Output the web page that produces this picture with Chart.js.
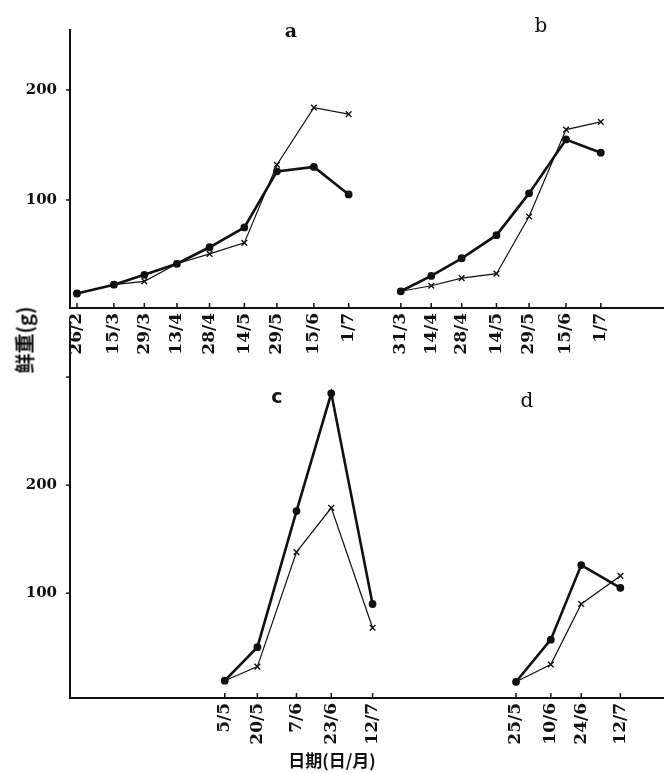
<!DOCTYPE html>
<html>
<head>
<meta charset="utf-8">
<script src="https://cdn.jsdelivr.net/npm/chart.js@4"></script>
<style>
html,body{margin:0;padding:0;background:#fff;}
#wrap{position:relative;width:670px;height:773px;overflow:hidden;background:#fff;}
canvas{position:absolute;left:0;}
#top{top:0;}
#bot{top:300px;}
.lab{position:absolute;color:#111;transform:translate(-50%,-50%);white-space:nowrap;line-height:1;}
</style>
</head>
<body>
<div id="wrap">
  <canvas id="top" width="670" height="380"></canvas>
  <canvas id="bot" width="670" height="473"></canvas>
  <div class="lab" style="left:291px;top:30px;font:bold 19px 'DejaVu Serif',serif;">a</div>
  <div class="lab" style="left:541px;top:25px;font:20px 'DejaVu Serif',serif;">b</div>
  <div class="lab" style="left:277px;top:396px;font:bold 19px 'DejaVu Sans',sans-serif;">c</div>
  <div class="lab" style="left:527px;top:400px;font:20px 'DejaVu Serif',serif;">d</div>
  <div class="lab" style="left:24px;top:340px;transform:translate(-50%,-50%) rotate(-90deg);font:bold 20px 'Noto Sans CJK SC',sans-serif;">鲜重(g)</div>
  <div class="lab" style="left:332px;top:759px;font:bold 17px 'Noto Sans CJK SC',sans-serif;">日期(日/月)</div>
</div>
<script>
// panel a (top left) - day of year, fresh weight (g)
const aDates = ['26/2','15/3','29/3','13/4','28/4','14/5','29/5','15/6','1/7'];
const aDays  = [57, 74, 88, 103, 118, 134, 149, 166, 182];
const aDot   = [15, 23, 32, 42, 57, 75, 126, 130, 105];
const aCross = [15, 23, 26, 42, 51, 61, 132, 184, 178];

// panel b (top right)
const bDates = ['31/3','14/4','28/4','14/5','29/5','15/6','1/7'];
const bDays  = [90, 104, 118, 134, 149, 166, 182];
const bDot   = [17, 31, 47, 68, 106, 155, 143];
const bCross = [17, 22, 29, 33, 85, 164, 171];

// panel c (bottom left)
const cDates = ['5/5','20/5','7/6','23/6','12/7'];
const cDays  = [125, 140, 158, 174, 193];
const cDot   = [19, 50, 176, 285, 90];
const cCross = [19, 32, 138, 179, 68];

// panel d (bottom right)
const dDates = ['25/5','10/6','24/6','12/7'];
const dDays  = [145, 161, 175, 193];
const dDot   = [18, 57, 126, 105];
const dCross = [18, 34, 90, 116];

// right-hand panels share the axis, shifted along it
const bShift = 116, dShift = 114;

const INK = '#111';

function pts(days, vals, shift){
  return days.map((d,i)=>({x:d+shift, y:vals[i]}));
}
function dotSet(data){
  return {data, borderColor:INK, borderWidth:2.6, pointStyle:'circle', pointRadius:2.6,
          pointBackgroundColor:INK, pointBorderColor:INK, tension:0};
}
function crossSet(data){
  return {data, borderColor:INK, borderWidth:1.2, pointStyle:'crossRot', pointRadius:4,
          pointBorderWidth:1.4, pointBorderColor:INK, tension:0};
}

// small tick marks: up from the x axis, left from the y axis
const tickMarks = {
  id:'tickMarks',
  afterDraw(chart){
    const {ctx, chartArea:ca, scales:{x,y}} = chart;
    ctx.save();
    ctx.strokeStyle = INK; ctx.lineWidth = 1.5;
    x.ticks.forEach(t=>{
      const px = x.getPixelForValue(t.value);
      ctx.beginPath(); ctx.moveTo(px, ca.bottom); ctx.lineTo(px, ca.bottom-5); ctx.stroke();
    });
    y.ticks.forEach(t=>{
      const py = y.getPixelForValue(t.value);
      ctx.beginPath(); ctx.moveTo(ca.left-4, py); ctx.lineTo(ca.left, py); ctx.stroke();
    });
    ctx.restore();
  }
};

function makeChart(id, sets, tickPos, tickLab, yMin, yMax, yTicks, pad, xH){
  const lab = {};
  tickPos.forEach((v,i)=>{ lab[v] = tickLab[i]; });
  return new Chart(document.getElementById(id), {
    type:'line',
    data:{datasets:sets},
    plugins:[tickMarks],
    options:{
      responsive:false, animation:false,
      layout:{padding:pad},
      plugins:{legend:{display:false}, tooltip:{enabled:false}},
      scales:{
        x:{
          type:'linear', min:53.8, max:326.8,
          afterBuildTicks:s=>{ s.ticks = tickPos.map(v=>({value:v})); },
          afterFit:s=>{ s.height = xH; },
          grid:{drawOnChartArea:false, drawTicks:false},
          border:{display:true, color:INK, width:2},
          ticks:{autoSkip:false, minRotation:90, maxRotation:90, padding:5, color:INK,
                 font:{family:'DejaVu Serif', size:17, weight:'bold'},
                 callback:v=>lab[v] ?? ''}
        },
        y:{
          min:yMin, max:yMax,
          afterBuildTicks:s=>{ s.ticks = yTicks.map(v=>({value:v})); },
          afterFit:s=>{ s.width = 70; },
          grid:{drawOnChartArea:false, drawTicks:false},
          border:{display:true, color:INK, width:2},
          ticks:{padding:13, color:INK, font:{family:'DejaVu Serif', size:15, weight:'bold'},
                 callback:v=>(v===100||v===200) ? String(v) : ''}
        }
      }
    }
  });
}

makeChart('top',
  [dotSet(pts(aDays,aDot,0)), crossSet(pts(aDays,aCross,0)),
   dotSet(pts(bDays,bDot,bShift)), crossSet(pts(bDays,bCross,bShift))],
  aDays.concat(bDays.map(d=>d+bShift)), aDates.concat(bDates),
  1.8, 254.5, [100,200], {top:30, right:2, left:0, bottom:0}, 72);

makeChart('bot',
  [dotSet(pts(cDays,cDot,0)), crossSet(pts(cDays,cCross,0)),
   dotSet(pts(dDays,dDot,dShift)), crossSet(pts(dDays,dCross,dShift))],
  cDays.concat(dDays.map(d=>d+dShift)), cDates.concat(dDates),
  3, 351, [100,200,300], {top:8, right:2, left:0, bottom:0}, 75);
</script>
</body>
</html>
